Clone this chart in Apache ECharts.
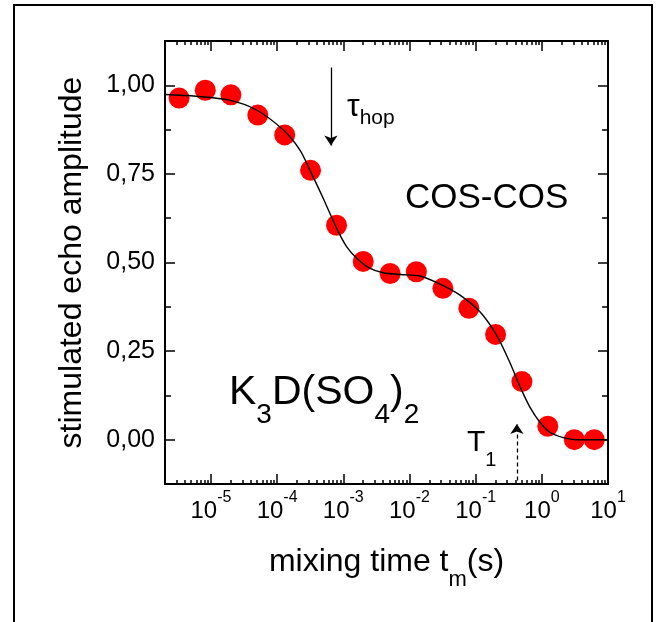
<!DOCTYPE html>
<html>
<head>
<meta charset="utf-8">
<script src="https://cdn.jsdelivr.net/npm/echarts@6/dist/echarts.min.js"></script>
<style>
html,body{margin:0;padding:0;background:#fff;}
#main{width:661px;height:622px;}
</style>
</head>
<body>
<div id="main"></div>
<script>
// measured points (mixing time in s, echo amplitude)
var tm  = [3.3e-6, 8.2e-6, 2.0e-5, 5.1e-5, 1.3e-4, 3.2e-4, 7.9e-4, 2.0e-3, 5.1e-3, 1.27e-2, 3.2e-2, 7.9e-2, 0.20, 0.50, 1.23, 3.1, 6.2];
var amp = [0.964, 0.986, 0.973, 0.916, 0.860, 0.760, 0.605, 0.503, 0.469, 0.474, 0.427, 0.371, 0.297, 0.164, 0.038, 0.0, 0.0];

// fit curve
var fitT = [2.02e-6, 6.0e-6, 1.9e-5, 4.8e-5, 1.22e-4, 2.2e-4, 3.1e-4, 5.0e-4, 7.9e-4, 1.12e-3, 1.6e-3, 2.5e-3, 4.0e-3, 7.2e-3, 1.44e-2, 2.9e-2, 5.8e-2, 0.116, 0.207, 0.33, 0.47, 0.66, 0.93, 1.32, 2.1, 3.3, 10];
var fitY = [0.974, 0.969, 0.958, 0.931, 0.875, 0.818, 0.762, 0.680, 0.597, 0.545, 0.512, 0.484, 0.471, 0.466, 0.462, 0.439, 0.408, 0.361, 0.295, 0.217, 0.149, 0.092, 0.050, 0.021, 0.006, 0.0, 0.0];

// axis ticks
var xMajor = [1e-5, 1e-4, 1e-3, 1e-2, 1e-1, 1, 10];
var xDecades = [1e-6, 1e-5, 1e-4, 1e-3, 1e-2, 1e-1, 1];
var xMinorMult = [2, 3, 4, 5, 6, 7, 8, 9];
var yMajor = [0, 0.25, 0.5, 0.75, 1];
var yMinor = [0.125, 0.375, 0.625, 0.875];

var xMinor = [];
xDecades.forEach(function (d) {
	xMinorMult.forEach(function (m) { xMinor.push(+(d * m).toPrecision(3)); });
});

var font = 'Liberation Sans, Arial, sans-serif';
var xMin = 2.02e-6, xMax = 10, yMin = -0.125, yMax = 1.125;

var chart = echarts.init(document.getElementById('main'));

function xAxisDef(pos, ticks, len, line) {
	return {
		type: 'log', logBase: 10, min: xMin, max: xMax, position: pos,
		axisLine: { show: line, onZero: false, lineStyle: { color: '#000', width: 2 } },
		axisTick: { show: true, inside: true, length: len, customValues: ticks, lineStyle: { color: '#000', width: 1.5 } },
		axisLabel: { show: false },
		splitLine: { show: false }, minorTick: { show: false }, minorSplitLine: { show: false }
	};
}
function yAxisDef(pos, ticks, len, line) {
	return {
		type: 'value', min: yMin, max: yMax, position: pos,
		axisLine: { show: line, onZero: false, lineStyle: { color: '#000', width: 2 } },
		axisTick: { show: true, inside: true, length: len, customValues: ticks, lineStyle: { color: '#000', width: 1.5 } },
		axisLabel: { show: false },
		splitLine: { show: false }
	};
}

var xBottom = xAxisDef('bottom', xMajor, 10, true);
xBottom.axisLabel = {
	show: true, margin: 6, customValues: xMajor,
	formatter: function (v) {
		var e = Math.round(Math.log(v) / Math.LN10);
		return '{b|10}{s|' + e + '}';
	},
	rich: {
		b: { fontFamily: font, fontSize: 24, lineHeight: 42, color: '#000' },
		s: { fontFamily: font, fontSize: 16, lineHeight: 16, verticalAlign: 'top', color: '#000' }
	}
};
xBottom.name = '{n|mixing time t}{s|m}{n|(s)}';
xBottom.nameLocation = 'middle';
xBottom.nameGap = 49;
xBottom.nameTextStyle = {
	rich: {
		n: { fontFamily: font, fontSize: 32, lineHeight: 58, color: '#000' },
		s: { fontFamily: font, fontSize: 22, lineHeight: 22, verticalAlign: 'bottom', color: '#000' }
	}
};

var yLeft = yAxisDef('left', yMajor, 10, true);
yLeft.axisLabel = {
	show: true, margin: 10, customValues: yMajor,
	fontFamily: font, fontSize: 25, color: '#000',
	formatter: function (v) { return v.toFixed(2).replace('.', ','); }
};
yLeft.name = 'stimulated echo amplitude';
yLeft.nameLocation = 'middle';
yLeft.nameGap = 77;
yLeft.nameTextStyle = { fontFamily: font, fontSize: 32, color: '#000' };

var option = {
	backgroundColor: '#fff',
	animation: false,
	grid: { left: 165, right: 53, top: 41, bottom: 138, outerBoundsMode: 'none' },
	xAxis: [
		xBottom,
		xAxisDef('top', xMajor, 10, true),
		xAxisDef('bottom', xMinor, 4, false),
		xAxisDef('top', xMinor, 4, false)
	],
	yAxis: [
		yLeft,
		yAxisDef('right', yMajor, 10, true),
		yAxisDef('left', yMinor, 6, false),
		yAxisDef('right', yMinor, 6, false)
	],
	series: [
		{
			name: 'data',
			type: 'scatter',
			symbolSize: 21,
			itemStyle: { color: '#ff0000', opacity: 1 },
			z: 2,
			data: tm.map(function (t, i) { return [t, amp[i]]; }),
			markLine: {
				silent: true,
				symbol: ['none', 'arrow'],
				symbolSize: 10,
				label: { show: false },
				data: [
					[{ coord: [6.5e-4, 1.05], lineStyle: { color: '#000', width: 1.3, type: 'solid' } },
					 { coord: [6.5e-4, 0.83] }],
					[{ coord: [0.42, -0.115], lineStyle: { color: '#000', width: 1.3, type: [4, 3] } },
					 { coord: [0.42, 0.044] }]
				]
			}
		},
		{
			name: 'fit',
			type: 'line',
			smooth: 0.3,
			showSymbol: false,
			symbol: 'none',
			z: 3,
			lineStyle: { color: '#000', width: 1.4 },
			data: fitT.map(function (t, i) { return [t, fitY[i]]; })
		}
	],
	graphic: [
		{
			type: 'rect', silent: true,
			shape: { x: 14, y: 5, width: 638, height: 700 },
			style: { fill: 'none', stroke: '#000', lineWidth: 2 }
		},
		{
			type: 'text', silent: true,
			style: {
				x: 405, y: 198, text: 'COS-COS', fill: '#000',
				font: '35px ' + font, textVerticalAlign: 'middle'
			}
		},
		{
			type: 'text', silent: true,
			style: {
				x: 229, y: 393, text: '{m|K}{s|3}{m|D(SO}{s|4}{m|)}{s|2}', textVerticalAlign: 'middle',
				rich: {
					m: { fontFamily: font, fontSize: 41, lineHeight: 72, fill: '#000' },
					s: { fontFamily: font, fontSize: 28, lineHeight: 28, verticalAlign: 'bottom', fill: '#000' }
				}
			}
		},
		{
			type: 'text', silent: true,
			style: {
				x: 347, y: 107, text: '{t|τ}{s|hop}', textVerticalAlign: 'middle',
				rich: {
					t: { fontFamily: font, fontSize: 32, lineHeight: 44, fill: '#000' },
					s: { fontFamily: font, fontSize: 21, lineHeight: 21, verticalAlign: 'bottom', fill: '#000' }
				}
			}
		},
		{
			type: 'text', silent: true,
			style: {
				x: 467, y: 443, text: '{t|T}{s|1}', textVerticalAlign: 'middle',
				rich: {
					t: { fontFamily: font, fontSize: 30, lineHeight: 54, fill: '#000' },
					s: { fontFamily: font, fontSize: 20, lineHeight: 20, verticalAlign: 'bottom', fill: '#000' }
				}
			}
		}
	]
};
chart.setOption(option);
</script>
</body>
</html>
